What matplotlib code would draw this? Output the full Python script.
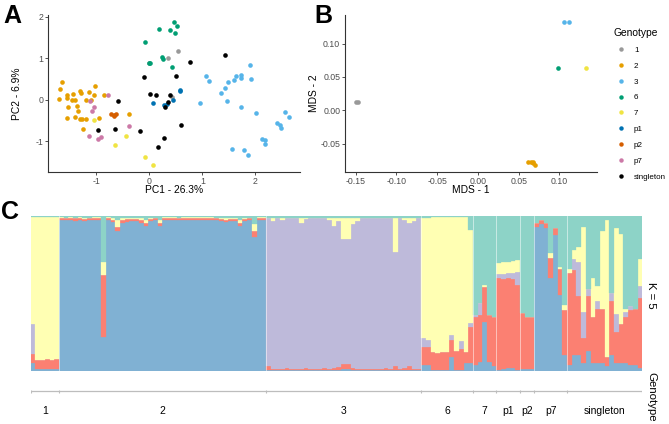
import numpy as np
import pandas as pd
import matplotlib
matplotlib.use("Agg")
import matplotlib.pyplot as plt
from matplotlib.lines import Line2D
from matplotlib.ticker import FormatStrFormatter

plt.rcParams["font.family"] = ["Liberation Sans", "DejaVu Sans"]
plt.rcParams["axes.unicode_minus"] = False

# =========================
# data
# =========================
genotypes = ["1", "2", "3", "6", "7", "p1", "p2", "p7", "singleton"]
geno_colors = ["#999999", "#E69F00", "#56B4E9", "#009E73", "#F0E442",
               "#0072B2", "#D55E00", "#CC79A7", "#000000"]

# panel A: PCA (points listed genotype by genotype)
pca_counts = [4, 27, 26, 11, 5, 6, 4, 8, 16]
pca_pc1 = [
    0.55, 0.36, 0.00, 0.43,
    -1.66, -1.69, -1.70, -1.55, -1.55, -1.45, -1.53, -1.40, -1.31, -1.30, -1.36, -1.35, -1.55, -1.40,
    -1.31, -1.28, -1.19, -1.19, -1.14, -1.03, -1.04, -0.86, -0.95, -1.26, -0.38, -1.10, -1.46,
    0.96, 1.07, 1.12, 1.36, 1.42, 1.46, 1.48, 1.59, 1.64, 1.73, 1.73, 1.90, 1.92, 1.74, 2.01,
    1.57, 1.79, 1.87, 2.13, 2.18, 2.18, 2.42, 2.47, 2.49, 2.57, 2.63,
    0.47, 0.53, 0.18, 0.38, 0.48, -0.09, 0.23, 0.25, 0.43, 0.02, -0.01,
    -1.04, -0.45, -0.65, -0.08, 0.07,
    0.07, 0.27, 0.33, 0.45, 0.57, 0.58,
    -0.72, -0.67, -0.63, -0.66,
    -1.13, -1.05, -0.78, -1.09, -0.39, -1.14, -0.97, -0.92,
    -0.60, -0.97, -0.65, -0.18, -0.11, 0.01, 0.13, 0.38, 0.50, 0.77, 1.43, 0.59, 0.27, 0.16, 0.29, 0.35,
]
pca_pc2 = [
    1.17, 1.00, 0.88, 0.06,
    0.43, 0.26, 0.02, 0.12, 0.04, 0.14, -0.18, 0.00, 0.22, 0.16, -0.14, -0.26, -0.44, -0.42,
    -0.46, -0.46, -0.46, 0.00, 0.18, 0.34, 0.12, 0.12, -0.44, -0.70, -0.35, 0.00, 0.00,
    -0.09, 0.58, 0.46, 0.16, 0.28, -0.03, 0.42, 0.48, 0.58, 0.60, 0.52, 0.84, 0.51, -0.18, -0.32,
    -1.19, -1.21, -1.33, -0.95, -0.98, -1.06, -0.56, -0.60, -0.68, -0.30, -0.41,
    1.87, 1.77, 1.70, 1.67, 1.62, 1.39, 1.02, 0.99, 0.79, 0.88, 0.88,
    -0.50, -0.87, -1.08, -1.37, -1.57,
    -0.08, -0.13, -0.10, 0.00, 0.21, 0.24,
    -0.34, -0.36, -0.34, -0.39,
    -0.04, -0.18, 0.12, -0.26, -0.64, -0.88, -0.95, -0.90,
    -0.02, -0.72, -0.71, -0.76, 0.55, 0.14, 0.12, 0.12, 0.56, 0.91, 1.08, -0.62, -0.93, -1.13, -0.18, -0.06,
]

# panel B: MDS
mds_genotypes = ["1", "2", "3", "6", "7"]
mds_counts = [2, 5, 2, 1, 1]
mds_1 = [-0.149, -0.147, 0.062, 0.065, 0.067, 0.068, 0.070, 0.106, 0.112, 0.098, 0.132]
mds_2 = [0.0125, 0.0125, -0.0765, -0.0765, -0.0775, -0.079, -0.0815, 0.132, 0.132, 0.064, 0.064]

# panel C: admixture proportions, K = 5 (one value per sample, grouped by genotype)
group_sizes = [6, 44, 33, 11, 5, 5, 3, 7, 16]
k_blue = [
    0.05, 0.01, 0.01, 0.01, 0.01, 0.01,
    0.975, 0.970, 0.972, 0.968, 0.972, 0.965, 0.970, 0.975, 0.972, 0.220,
    0.975, 0.960, 0.900, 0.955, 0.962, 0.968, 0.965, 0.955, 0.934, 0.965,
    0.970, 0.934, 0.972, 0.975, 0.972, 0.970, 0.975, 0.972, 0.970, 0.975,
    0.972, 0.970, 0.975, 0.970, 0.965, 0.960, 0.968, 0.965, 0.934, 0.965,
    0.970, 0.865, 0.972, 0.975,
    0.004, 0.004, 0.004, 0.004, 0.004, 0.004, 0.004, 0.004, 0.004, 0.004, 0.004,
    0.004, 0.004, 0.004, 0.004, 0.004, 0.012, 0.012, 0.004, 0.004, 0.004, 0.004,
    0.004, 0.004, 0.004, 0.004, 0.004, 0.004, 0.004, 0.004, 0.004, 0.004, 0.004,
    0.039, 0.039, 0.005, 0.005, 0.005, 0.005, 0.092, 0.005, 0.005, 0.050, 0.050,
    0.039, 0.060, 0.317, 0.060, 0.030,
    0.007, 0.010, 0.020, 0.020, 0.005,
    0.010, 0.010, 0.010,
    0.930, 0.947, 0.920, 0.597, 0.876, 0.489, 0.103,
    0.04, 0.10, 0.10, 0.05, 0.13, 0.05, 0.05, 0.05, 0.03, 0.10, 0.05, 0.05, 0.05, 0.04, 0.04, 0.02,
]
k_red = [
    0.06, 0.06, 0.06, 0.07, 0.06, 0.07,
    0.010, 0.012, 0.012, 0.014, 0.012, 0.015, 0.012, 0.010, 0.012, 0.400,
    0.010, 0.015, 0.028, 0.015, 0.014, 0.012, 0.014, 0.015, 0.017, 0.013,
    0.012, 0.017, 0.012, 0.010, 0.012, 0.012, 0.010, 0.012, 0.013, 0.010,
    0.012, 0.013, 0.010, 0.012, 0.014, 0.015, 0.013, 0.014, 0.017, 0.014,
    0.012, 0.039, 0.012, 0.010,
    0.025, 0.012, 0.010, 0.012, 0.013, 0.012, 0.010, 0.012, 0.014, 0.012, 0.010,
    0.012, 0.013, 0.012, 0.015, 0.020, 0.030, 0.030, 0.015, 0.012, 0.010, 0.012,
    0.012, 0.010, 0.012, 0.013, 0.012, 0.025, 0.012, 0.014, 0.025, 0.012, 0.010,
    0.118, 0.118, 0.115, 0.113, 0.115, 0.118, 0.107, 0.125, 0.135, 0.075, 0.236,
    0.307, 0.300, 0.221, 0.300, 0.320,
    0.590, 0.585, 0.580, 0.575, 0.550,
    0.360, 0.340, 0.340,
    0.026, 0.025, 0.032, 0.129, 0.043, 0.165, 0.290,
    0.59, 0.55, 0.38, 0.16, 0.35, 0.30, 0.35, 0.35, 0.06, 0.35, 0.20, 0.25, 0.30, 0.35, 0.36, 0.45,
]
k_purple = [
    0.19, 0.00, 0.00, 0.00, 0.00, 0.00,
    0.000, 0.000, 0.000, 0.000, 0.000, 0.000, 0.000, 0.000, 0.000, 0.000,
    0.000, 0.000, 0.000, 0.000, 0.000, 0.000, 0.000, 0.000, 0.000, 0.000,
    0.000, 0.000, 0.000, 0.000, 0.000, 0.000, 0.000, 0.000, 0.000, 0.000,
    0.000, 0.000, 0.000, 0.000, 0.000, 0.000, 0.000, 0.000, 0.000, 0.000,
    0.000, 0.000, 0.000, 0.000,
    0.954, 0.952, 0.969, 0.957, 0.966, 0.967, 0.969, 0.937, 0.960, 0.967, 0.969,
    0.967, 0.966, 0.957, 0.914, 0.939, 0.809, 0.809, 0.929, 0.952, 0.969, 0.967,
    0.967, 0.969, 0.967, 0.966, 0.967, 0.739, 0.967, 0.955, 0.924, 0.952, 0.969,
    0.054, 0.045, 0.000, 0.000, 0.000, 0.000, 0.032, 0.000, 0.054, 0.000, 0.020,
    0.015, 0.075, 0.000, 0.000, 0.000,
    0.028, 0.030, 0.030, 0.035, 0.085,
    0.000, 0.000, 0.000,
    0.000, 0.000, 0.000, 0.000, 0.000, 0.000, 0.000,
    0.00, 0.07, 0.22, 0.17, 0.05, 0.00, 0.05, 0.00, 0.00, 0.05, 0.12, 0.00, 0.03, 0.03, 0.00, 0.08,
]
k_yellow = [
    0.69, 0.92, 0.92, 0.91, 0.92, 0.91,
    0.005, 0.006, 0.005, 0.006, 0.005, 0.008, 0.006, 0.005, 0.005, 0.080,
    0.005, 0.010, 0.047, 0.012, 0.010, 0.008, 0.008, 0.012, 0.020, 0.008,
    0.006, 0.020, 0.005, 0.005, 0.005, 0.006, 0.005, 0.005, 0.006, 0.005,
    0.005, 0.006, 0.005, 0.006, 0.008, 0.010, 0.006, 0.008, 0.022, 0.008,
    0.006, 0.043, 0.005, 0.005,
    0.005, 0.020, 0.005, 0.015, 0.005, 0.005, 0.005, 0.035, 0.010, 0.005, 0.005,
    0.005, 0.005, 0.015, 0.055, 0.025, 0.137, 0.137, 0.040, 0.020, 0.005, 0.005,
    0.005, 0.005, 0.005, 0.005, 0.005, 0.220, 0.005, 0.015, 0.035, 0.020, 0.005,
    0.772, 0.786, 0.872, 0.874, 0.872, 0.869, 0.761, 0.862, 0.796, 0.865, 0.602,
    0.000, 0.000, 0.015, 0.000, 0.000,
    0.069, 0.075, 0.070, 0.080, 0.075,
    0.000, 0.000, 0.000,
    0.000, 0.000, 0.000, 0.036, 0.000, 0.017, 0.032,
    0.03, 0.06, 0.10, 0.55, 0.00, 0.25, 0.10, 0.50, 0.88, 0.00, 0.55, 0.58, 0.02, 0.00, 0.00, 0.17,
]
k_teal = [
    0.01, 0.01, 0.01, 0.01, 0.01, 0.01,
    0.010, 0.012, 0.011, 0.012, 0.011, 0.012, 0.012, 0.010, 0.011, 0.300,
    0.010, 0.015, 0.025, 0.018, 0.014, 0.012, 0.013, 0.018, 0.029, 0.014,
    0.012, 0.029, 0.011, 0.010, 0.011, 0.012, 0.010, 0.011, 0.011, 0.010,
    0.011, 0.011, 0.010, 0.012, 0.013, 0.015, 0.013, 0.013, 0.027, 0.013,
    0.012, 0.053, 0.011, 0.010,
    0.012, 0.012, 0.012, 0.012, 0.012, 0.012, 0.012, 0.012, 0.012, 0.012, 0.012,
    0.012, 0.012, 0.012, 0.012, 0.012, 0.012, 0.012, 0.012, 0.012, 0.012, 0.012,
    0.012, 0.012, 0.012, 0.012, 0.012, 0.012, 0.012, 0.012, 0.012, 0.012, 0.012,
    0.017, 0.012, 0.008, 0.008, 0.008, 0.008, 0.008, 0.008, 0.010, 0.010, 0.092,
    0.639, 0.565, 0.447, 0.640, 0.650,
    0.306, 0.300, 0.300, 0.290, 0.285,
    0.629, 0.650, 0.650,
    0.044, 0.028, 0.048, 0.238, 0.081, 0.329, 0.575,
    0.34, 0.22, 0.20, 0.07, 0.47, 0.40, 0.45, 0.10, 0.03, 0.50, 0.08, 0.12, 0.60, 0.58, 0.60, 0.28,
]
k_colors = ["#80B1D3", "#FB8072", "#BEBADA", "#FFFFB3", "#8DD3C7"]

# =========================
# preprocess
# =========================
pca = pd.DataFrame({
    "geno": np.repeat(genotypes, pca_counts),
    "pc1": pca_pc1,
    "pc2": pca_pc2,
})
mds = pd.DataFrame({
    "geno": np.repeat(mds_genotypes, mds_counts),
    "m1": mds_1,
    "m2": mds_2,
})
color_of = dict(zip(genotypes, geno_colors))

q = np.array([k_blue, k_red, k_purple, k_yellow, k_teal], dtype=float)
q = q / q.sum(axis=0)  # each sample sums to 1
n_samples = q.shape[1]
edges = np.concatenate([[0], np.cumsum(group_sizes)])

# =========================
# plot
# =========================
W, H = 669, 424
fig = plt.figure(figsize=(W / 100, H / 100), dpi=100)


def px_axes(left, top, right, bottom):
    return fig.add_axes([left / W, 1 - bottom / H, (right - left) / W, (bottom - top) / H])


def classic(ax):
    for s in ["top", "right"]:
        ax.spines[s].set_visible(False)
    for s in ["left", "bottom"]:
        ax.spines[s].set_color("#333333")
        ax.spines[s].set_linewidth(0.8)
    ax.tick_params(labelsize=6.3, colors="#4d4d4d", length=2, width=0.6, pad=1.5)
    ax.tick_params(axis="both", which="both", color="#333333")


# --- A: PCA
ax_a = px_axes(48, 15, 300, 172)
for g in genotypes:
    d = pca[pca["geno"] == g]
    ax_a.scatter(d["pc1"], d["pc2"], s=11, color=color_of[g], linewidths=0)
classic(ax_a)
ax_a.set_xticks([-1, 0, 1, 2])
ax_a.set_yticks([-1, 0, 1, 2])
ax_a.set_xlabel("PC1 - 26.3%", fontsize=7.4)
ax_a.set_ylabel("PC2 - 6.9%", fontsize=7.4)
ax_a.xaxis.set_label_coords(0.5, -0.085)
ax_a.yaxis.set_label_coords(-0.103, 0.5)

# --- B: MDS
ax_b = px_axes(345, 15, 597, 172)
for g in mds_genotypes:
    d = mds[mds["geno"] == g]
    ax_b.scatter(d["m1"], d["m2"], s=11, color=color_of[g], linewidths=0)
classic(ax_b)
ax_b.set_xticks([-0.15, -0.10, -0.05, 0.00, 0.05, 0.10])
ax_b.set_yticks([-0.05, 0.00, 0.05, 0.10])
ax_b.xaxis.set_major_formatter(FormatStrFormatter("%.2f"))
ax_b.yaxis.set_major_formatter(FormatStrFormatter("%.2f"))
ax_b.set_xlabel("MDS - 1", fontsize=7.4)
ax_b.set_ylabel("MDS - 2", fontsize=7.4)
ax_b.xaxis.set_label_coords(0.5, -0.085)
ax_b.yaxis.set_label_coords(-0.103, 0.5)

handles = [Line2D([0], [0], marker="o", ls="", color=c, markersize=3.2, markeredgewidth=0)
           for c in geno_colors]
fig.legend(handles, genotypes, loc="upper left", bbox_to_anchor=(613 / W, 1 - 28 / H),
           frameon=False, title="Genotype", alignment="left", fontsize=5.8, title_fontsize=7.4,
           handlelength=2.0, handletextpad=0.6, labelspacing=1.02, borderpad=0, borderaxespad=0)

# --- C: admixture barplot
ax_c = px_axes(30.7, 215.7, 642.3, 371)
x = np.arange(n_samples)
bottom = np.zeros(n_samples)
for vals, col in zip(q, k_colors):
    ax_c.bar(x, vals, width=1.0, bottom=bottom, color=col, edgecolor=col, linewidth=0.2)
    bottom += vals
for e in edges[1:-1]:
    ax_c.axvline(e - 0.5, color="white", lw=0.6, alpha=0.6)
ax_c.set_xlim(-0.5, n_samples - 0.5)
ax_c.set_ylim(0, 1)
ax_c.axis("off")

# genotype strip under C
ax_g = px_axes(30.7, 385, 642.3, 415)
ax_g.set_xlim(-0.5, n_samples - 0.5)
ax_g.set_ylim(0, 1)
ax_g.axis("off")
ax_g.hlines(0.8, -0.5, n_samples - 0.5, color="#bdbdbd", lw=0.9)
ax_g.vlines(edges - 0.5, 0.75, 0.85, color="#bdbdbd", lw=0.8)
centers = (edges[:-1] + edges[1:]) / 2 - 0.5
for c, name in zip(centers, genotypes):
    ax_g.text(c, 0.12, name, ha="center", va="center", fontsize=7.5)

fig.text(651.5 / W, 1 - 295 / H, "K = 5", rotation=-90, ha="center", va="center", fontsize=8.2)
fig.text(651.5 / W, 1 - 397 / H, "Genotype", rotation=-90, ha="center", va="center", fontsize=8.2)

# panel letters
for lab, px, py in [("A", 3, 16), ("B", 314, 16), ("C", 1, 212)]:
    fig.text(px / W, 1 - py / H, lab, fontsize=18, fontweight="bold", ha="left", va="center")

fig.savefig("out.png", dpi=100)
